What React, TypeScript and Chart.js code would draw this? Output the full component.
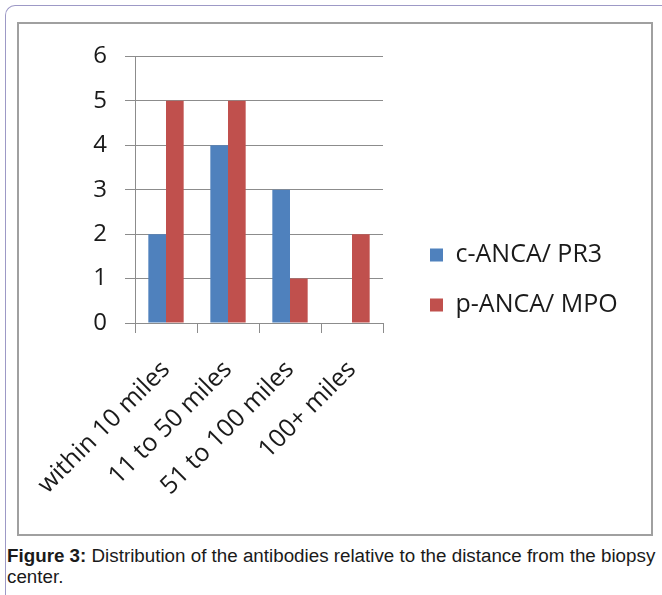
import React, { useEffect, useRef } from "react";
import { Chart, registerables } from "chart.js";

Chart.register(...registerables);

const categories = ["within 10 miles", "11 to 50 miles", "51 to 100 miles", "100+ miles"];
const seriesNames = ["c-ANCA/ PR3", "p-ANCA/ MPO"];
const cAncaValues = [2, 4, 3, 0];
const pAncaValues = [5, 5, 1, 2];
const yMin = 0;
const yMax = 6;
const yStep = 1;
const captionBold = "Figure 3:";
const captionLine1 = " Distribution of the antibodies relative to the distance from the biopsy";
const captionLine2 = "center.";

const FONT = "'Open Sans', 'DejaVu Sans', sans-serif";
const LEGEND_SIZE = 25;

export default function App() {
  const canvasRef = useRef<HTMLCanvasElement | null>(null);

  useEffect(() => {
    const canvas = canvasRef.current;
    if (!canvas) return;
    const mctx = canvas.getContext("2d");
    let maxTextW = 168;
    if (mctx) {
      mctx.font = `${LEGEND_SIZE}px ${FONT}`;
      maxTextW = Math.max(...seriesNames.map((n) => mctx.measureText(n).width));
    }
    const legendPad = 25;
    const legendW = legendPad + 13 + LEGEND_SIZE / 2 + maxTextW + 10;
    const legendLeft = 386;
    const padRight = Math.max(0, 632 - legendLeft - legendW);

    const chart = new Chart(canvas, {
      type: "bar",
      data: {
        labels: categories,
        datasets: [
          {
            label: seriesNames[0],
            data: cAncaValues,
            backgroundColor: "#4F81BD",
            borderWidth: 0,
          },
          {
            label: seriesNames[1],
            data: pAncaValues,
            backgroundColor: "#C0504D",
            borderWidth: 0,
          },
        ],
      },
      options: {
        animation: false,
        responsive: false,
        devicePixelRatio: 1,
        barPercentage: 1,
        categoryPercentage: 0.57,
        layout: { padding: { left: 0, top: 31, right: padRight, bottom: 29 } },
        plugins: {
          tooltip: { enabled: false },
          legend: {
            position: "right",
            maxWidth: Math.ceil(legendW) + 2,
            labels: {
              boxWidth: 13,
              boxHeight: 13,
              padding: legendPad,
              color: "#1a1a1a",
              font: { family: FONT, size: LEGEND_SIZE },
            },
          },
        },
        scales: {
          x: {
            offset: true,
            grid: {
              display: true,
              drawOnChartArea: false,
              drawTicks: true,
              tickLength: 10,
              color: "#8c8c8c",
              offset: true,
            },
            border: { display: true, color: "#8c8c8c", width: 1 },
            ticks: {
              autoSkip: false,
              maxRotation: 45,
              minRotation: 45,
              padding: 22,
              color: "#1a1a1a",
              font: { family: FONT, size: 25 },
            },
            afterFit: (s: any) => {
              s.height = 182;
              s.paddingLeft = 0;
              s.paddingRight = 0;
            },
          },
          y: {
            min: yMin,
            max: yMax,
            grid: {
              display: true,
              drawTicks: true,
              tickLength: 10,
              color: "#8c8c8c",
            },
            border: { display: true, color: "#8c8c8c", width: 1 },
            ticks: {
              stepSize: yStep,
              padding: 18,
              color: "#1a1a1a",
              font: { family: FONT, size: 24 },
            },
            afterFit: (s: any) => {
              s.width = 116;
            },
          },
          y2: {
            type: "linear",
            position: "right",
            display: true,
            grid: { display: false, drawTicks: false },
            border: { display: false },
            ticks: { display: false },
            afterFit: (s: any) => {
              s.width = 22;
            },
          },
        },
      },
    });
    return () => chart.destroy();
  }, []);

  return (
    <div
      style={{
        position: "absolute",
        left: 0,
        top: 0,
        width: 662,
        height: 595,
        overflow: "hidden",
        background: "#ffffff",
      }}
    >
      <div
        style={{
          position: "absolute",
          left: 5,
          top: 5,
          width: 720,
          height: 640,
          borderLeft: "1.5px solid #9d99c6",
          borderTop: "1.5px solid #9d99c6",
          borderTopLeftRadius: 10,
        }}
      />
      <div
        style={{
          position: "absolute",
          left: 17,
          top: 22,
          width: 632,
          height: 510,
          border: "2px solid #a0a0a0",
          background: "#ffffff",
        }}
      >
        <canvas ref={canvasRef} width={632} height={510} style={{ display: "block", width: 632, height: 510 }} />
      </div>
      <div
        style={{
          position: "absolute",
          left: 7,
          top: 545,
          width: 655,
          fontFamily: "'Liberation Sans', Arial, sans-serif",
          fontSize: 18.8,
          lineHeight: "21px",
          color: "#1a1a1a",
          whiteSpace: "nowrap",
        }}
      >
        <span style={{ fontWeight: "bold" }}>{captionBold}</span>
        {captionLine1}
        <br />
        {captionLine2}
      </div>
    </div>
  );
}
